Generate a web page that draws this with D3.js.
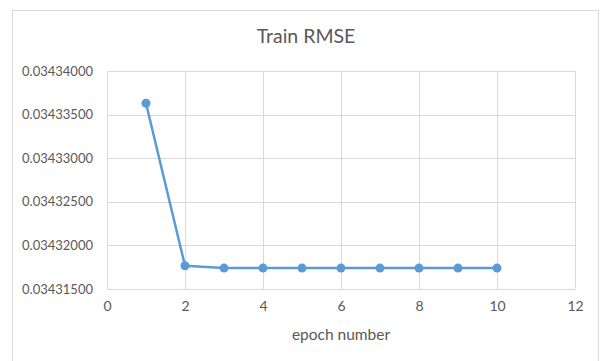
<!DOCTYPE html>
<html>
<head>
<meta charset="utf-8">
<script src="https://cdn.jsdelivr.net/npm/d3@7"></script>
<style>
  body { margin: 0; background: #fff; }
  text { font-family: Lato, "Open Sans", sans-serif; fill: #595959; }
</style>
</head>
<body>
<div id="chart"></div>
<script>
// data
const epochs = [1, 2, 3, 4, 5, 6, 7, 8, 9, 10];
const trainRmse = [0.03433630, 0.03431766, 0.03431740, 0.03431740, 0.03431740,
                   0.03431740, 0.03431740, 0.03431740, 0.03431740, 0.03431740];
const xTicks = [0, 2, 4, 6, 8, 10, 12];
const yTicks = [0.034315, 0.034320, 0.034325, 0.034330, 0.034335, 0.034340];
const titleText = "Train RMSE";
const xLabel = "epoch number";

const data = epochs.map((e, i) => ({epoch: e, value: trainRmse[i]}));

/* Set the dimensions and margins of the graph */
const width = 600, height = 361;
const margins = {top: 71, right: 25, bottom: 72, left: 107};

const svg = d3.select("#chart")
    .append("svg")
    .attr("width", width)
    .attr("height", height);

/* chart area border */
svg.append("rect")
    .attr("x", 12.5)
    .attr("y", 10.5)
    .attr("width", 586)
    .attr("height", 360)
    .attr("fill", "none")
    .attr("stroke", "#d9d9d9")
    .attr("stroke-width", 1);

/* scales */
const xScale = d3.scaleLinear()
    .domain([0, 12])
    .range([margins.left, width - margins.right]);
const yScale = d3.scaleLinear()
    .domain([yTicks[0], yTicks[yTicks.length - 1]])
    .range([height - margins.bottom, margins.top]);

/* gridlines */
svg.append("g")
    .selectAll("line")
    .data(yTicks)
    .join("line")
    .attr("x1", margins.left)
    .attr("x2", width - margins.right)
    .attr("y1", d => Math.round(yScale(d)) + 0.5)
    .attr("y2", d => Math.round(yScale(d)) + 0.5)
    .attr("stroke", "#d9d9d9");

svg.append("g")
    .selectAll("line")
    .data(xTicks)
    .join("line")
    .attr("x1", d => Math.round(xScale(d)) + 0.5)
    .attr("x2", d => Math.round(xScale(d)) + 0.5)
    .attr("y1", margins.top)
    .attr("y2", height - margins.bottom)
    .attr("stroke", "#d9d9d9");

/* axes via d3-axis, then restyled */
const xAxis = d3.axisBottom(xScale).tickValues(xTicks).tickSize(0).tickPadding(12);
const yAxis = d3.axisLeft(yScale).tickValues(yTicks).tickSize(0).tickPadding(14)
    .tickFormat(d => d.toFixed(8));

const xGroup = svg.append("g")
    .attr("transform", `translate(0, ${height - margins.bottom})`)
    .call(xAxis);
xGroup.select(".domain").remove();
xGroup.selectAll("text")
    .attr("font-size", 14)
    .style("font-family", "Lato, sans-serif")
    .attr("fill", "#595959");

const yGroup = svg.append("g")
    .attr("transform", `translate(${margins.left},0)`)
    .call(yAxis);
yGroup.select(".domain").remove();
yGroup.selectAll("text")
    .attr("font-size", 13)
    .style("font-family", "Lato, sans-serif")
    .attr("fill", "#595959");

/* line */
const line = d3.line()
    .x(d => xScale(d.epoch))
    .y(d => yScale(d.value));

svg.append("path")
    .datum(data)
    .attr("d", line)
    .attr("fill", "none")
    .attr("stroke", "#5b9bd5")
    .attr("stroke-width", 2.5)
    .attr("stroke-linejoin", "round");

svg.append("g")
    .selectAll("circle")
    .data(data)
    .join("circle")
    .attr("cx", d => xScale(d.epoch))
    .attr("cy", d => yScale(d.value))
    .attr("r", 4.5)
    .attr("fill", "#5b9bd5");

/* title and axis label */
svg.append("text")
    .attr("x", 306)
    .attr("y", 43)
    .attr("text-anchor", "middle")
    .attr("font-size", 19.5)
    .text(titleText);

svg.append("text")
    .attr("x", (margins.left + width - margins.right) / 2)
    .attr("y", 340)
    .attr("text-anchor", "middle")
    .attr("font-size", 15.5)
    .text(xLabel);
</script>
</body>
</html>
